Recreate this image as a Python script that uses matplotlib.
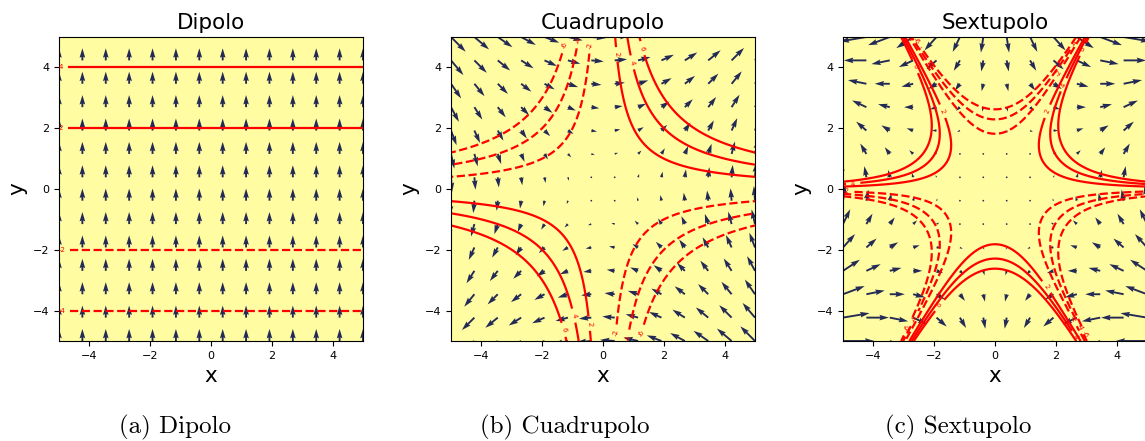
import numpy as np
import matplotlib.pyplot as plt

# potenciales multipolares: curvas equipotenciales + campo (gradiente)

titulos = ['Dipolo', 'Cuadrupolo', 'Sextupolo']
leyendas = ['(a) Dipolo', '(b) Cuadrupolo', '(c) Sextupolo']
niveles = [-6, -4, -2, 2, 4, 6]
ticks = [-4, -2, 0, 2, 4]
lim = 5
n_fino = 300
n_flechas = 14

fondo = '#fffca2'
color_flecha = '#222a55'


def potencial(k, x, y):
    if k == 0:
        return y
    if k == 1:
        return x * y
    return x**2 * y - y**3 / 3


def campo(k, x, y):
    if k == 0:
        return np.zeros_like(x), np.ones_like(y)
    if k == 1:
        return y, x
    return 2 * x * y, x**2 - y**2


def plot_results():
    fig = plt.figure(figsize=(11.45, 4.41), dpi=100)

    xs = np.linspace(-lim, lim, n_fino)
    X, Y = np.meshgrid(xs, xs)
    xq = np.linspace(-lim, lim, n_flechas)
    XQ, YQ = np.meshgrid(xq, xq)

    lefts = [59, 451, 843]
    centros = [175, 565, 958]
    for k in range(3):
        ax = fig.add_axes([lefts[k] / 1145, 100 / 441, 304 / 1145, 304 / 441])
        ax.set_facecolor(fondo)
        V = potencial(k, X, Y)
        cs = ax.contour(X, Y, V, levels=niveles, colors='red', linewidths=1.6)
        ax.clabel(cs, fontsize=5, inline=True, fmt='%d')
        U, W = campo(k, XQ, YQ)
        ax.quiver(XQ, YQ, U, W, color=color_flecha, width=0.0062)
        ax.set_xlim(-lim, lim)
        ax.set_ylim(-lim, lim)
        ax.set_xticks(ticks)
        ax.set_yticks(ticks)
        ax.tick_params(labelsize=8)
        ax.set_title(titulos[k], fontsize=15.5)
        ax.set_xlabel('x', fontsize=15.5)
        ax.set_ylabel('y', fontsize=15.5)
        fig.text(centros[k] / 1145, 1 - 427 / 441, leyendas[k],
                 fontfamily='cmr10', fontsize=18, ha='center', va='center')

    fig.savefig('out.png', dpi=100)


plot_results()
